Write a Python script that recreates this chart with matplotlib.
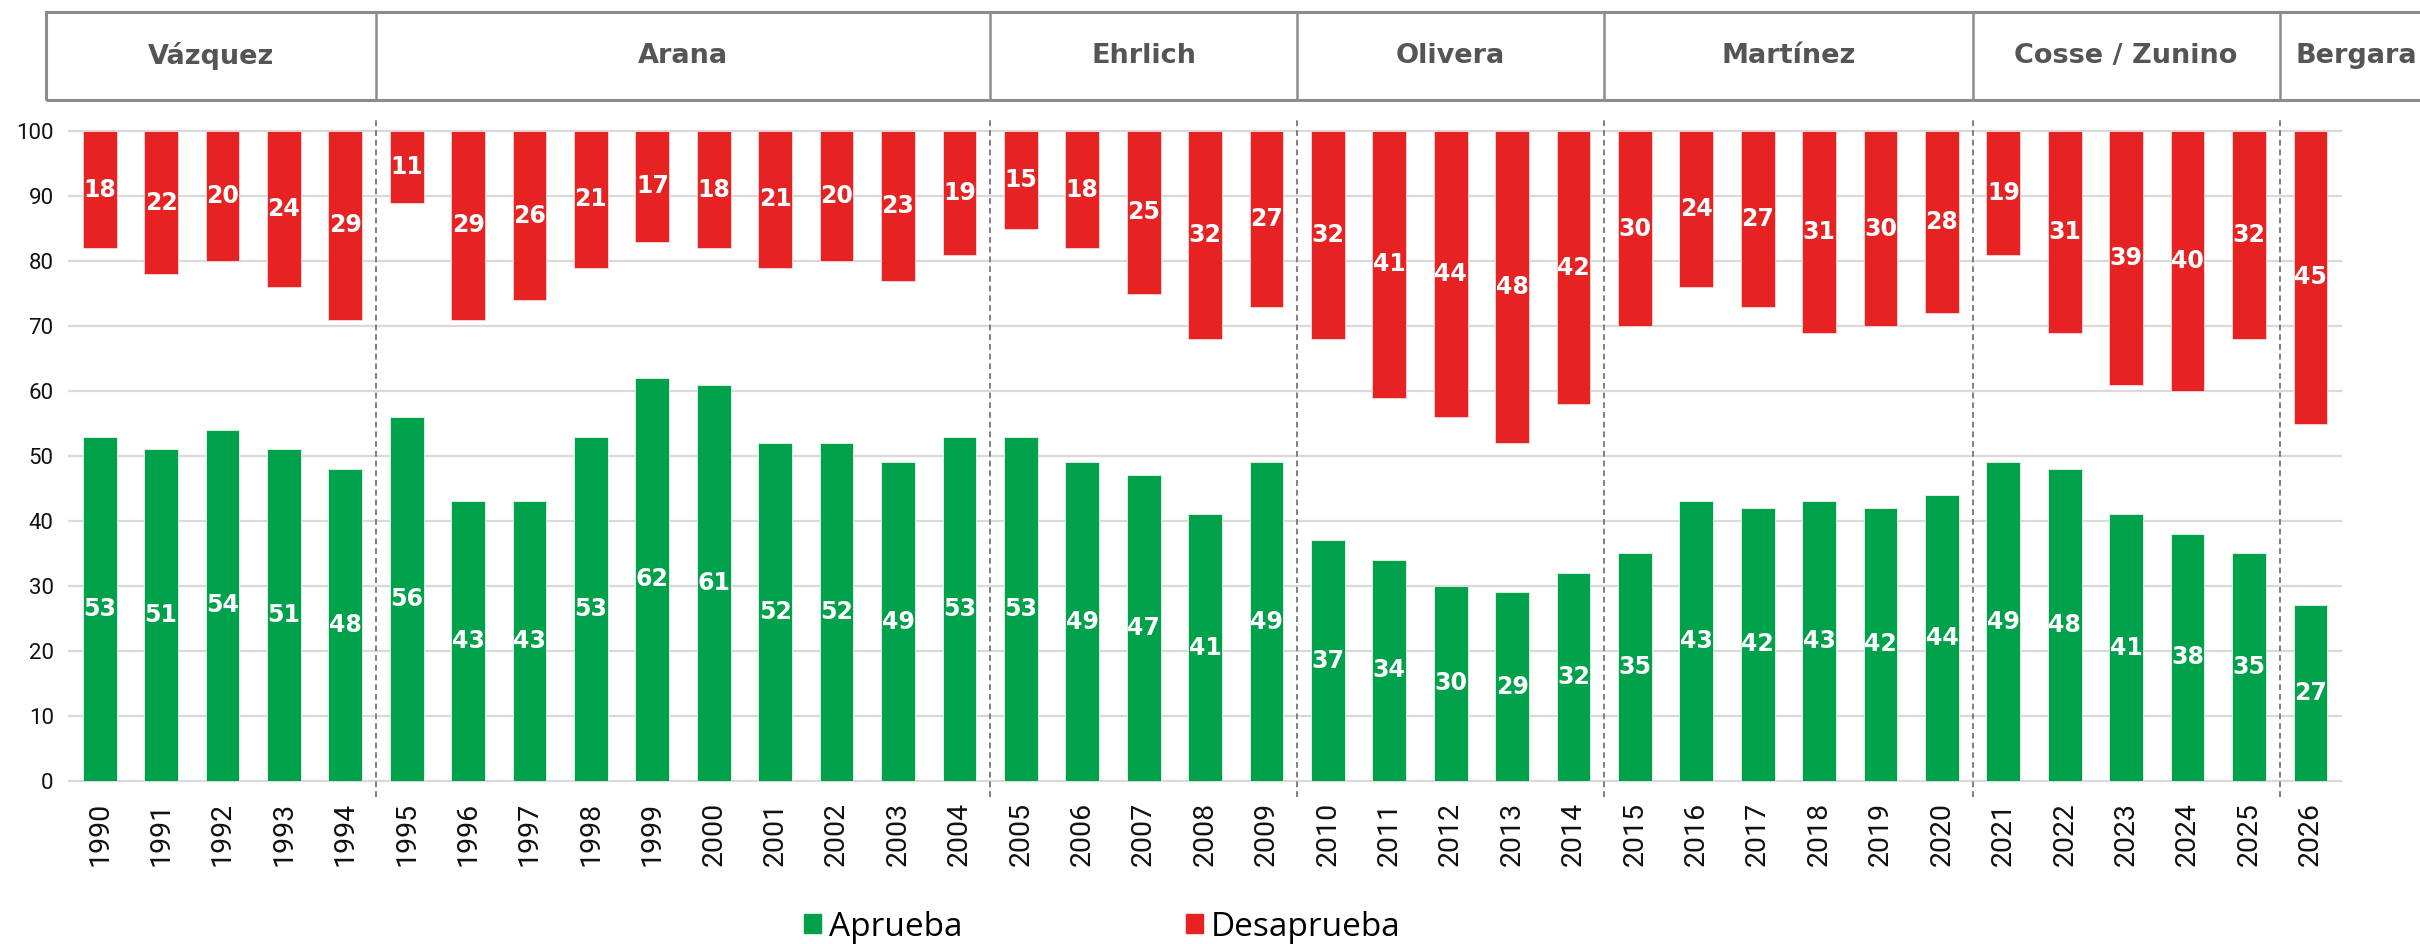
import matplotlib.pyplot as plt
from matplotlib.patches import Rectangle, Patch
import numpy as np

# datos: aprobacion / desaprobacion por año
years = [1990, 1991, 1992, 1993, 1994, 1995, 1996, 1997, 1998, 1999,
         2000, 2001, 2002, 2003, 2004, 2005, 2006, 2007, 2008, 2009,
         2010, 2011, 2012, 2013, 2014, 2015, 2016, 2017, 2018, 2019,
         2020, 2021, 2022, 2023, 2024, 2025, 2026]
aprueba = [53, 51, 54, 51, 48,
           56, 43, 43, 53, 62, 61, 52, 52, 49, 53,
           53, 49, 47, 41, 49,
           37, 34, 30, 29, 32,
           35, 43, 42, 43, 42, 44,
           49, 48, 41, 38, 35,
           27]
desaprueba = [18, 22, 20, 24, 29,
              11, 29, 26, 21, 17, 18, 21, 20, 23, 19,
              15, 18, 25, 32, 27,
              32, 41, 44, 48, 42,
              30, 24, 27, 31, 30, 28,
              19, 31, 39, 40, 32,
              45]
intendentes = ['Vázquez', 'Arana', 'Ehrlich', 'Olivera', 'Martínez', 'Cosse / Zunino', 'Bergara']
anios_por_periodo = [5, 10, 5, 5, 6, 5, 1]

VERDE = '#00A14B'
ROJO = '#E62222'
GRIS = '#8c8c8c'

fig = plt.figure(figsize=(24.2, 9.44), dpi=100)
ax = fig.add_axes([0.0285, 0.1727, 0.9389, 0.6885])

x = np.arange(len(years))
ancho = 0.55
ax.bar(x, aprueba, width=ancho, color=VERDE, edgecolor='#e8f5ec', linewidth=0.6, zorder=3)
ax.bar(x, desaprueba, width=ancho, bottom=[100 - d for d in desaprueba],
       color=ROJO, edgecolor='#f7dada', linewidth=0.6, zorder=3)

for i in range(len(years)):
    ax.text(x[i], aprueba[i] / 2, str(aprueba[i]), ha='center', va='center',
            color='white', fontsize=17, fontweight='bold', family='DejaVu Sans', zorder=4)
    ax.text(x[i], 100 - desaprueba[i] / 2, str(desaprueba[i]), ha='center', va='center',
            color='white', fontsize=17, fontweight='bold', family='DejaVu Sans', zorder=4)

ax.set_xlim(-0.5, len(years) - 0.5)
ax.set_ylim(0, 100)
ax.set_yticks(range(0, 101, 10))
ax.set_xticks(x, [str(y) for y in years], rotation=90)
ax.tick_params(axis='both', length=0)
ax.tick_params(axis='x', pad=15, labelsize=20.5)
ax.tick_params(axis='y', pad=11, labelsize=16)
for lab in ax.get_xticklabels() + ax.get_yticklabels():
    lab.set_fontfamily('Roboto')
    lab.set_color('#111111')

ax.yaxis.grid(True, color='#d9d9d9', linewidth=1.6)
for gl in ax.get_ygridlines():
    gl.set_clip_on(False)
ax.set_axisbelow(True)
for s in ax.spines.values():
    s.set_visible(False)

# separadores entre periodos
trans = ax.get_xaxis_transform()
limites = list(np.cumsum(anios_por_periodo)[:-1] - 0.5)
for b in limites:
    ax.plot([b, b], [-0.025, 1.022], transform=trans, color='#808080',
            linestyle=(0, (3, 2)), linewidth=1.4, clip_on=False, zorder=2)

# encabezado con los intendentes
y0, y1 = 1.0477, 1.183
bordes = [-0.875] + limites + [38.0]
ax.add_patch(Rectangle((bordes[0], y0), bordes[-1] - bordes[0], y1 - y0, transform=trans,
                       fill=False, edgecolor=GRIS, linewidth=2.2, clip_on=False))
for b in limites:
    ax.plot([b, b], [y0, y1], transform=trans, color=GRIS, linewidth=1.8, clip_on=False)
for k, nombre in enumerate(intendentes):
    ax.text((bordes[k] + bordes[k + 1]) / 2, (y0 + y1) / 2, nombre, transform=trans,
            ha='center', va='center', fontsize=19.5, fontweight='bold',
            family='DejaVu Sans', color='#555555', clip_on=False)

handles = [Patch(color=VERDE, label='Aprueba'), Patch(color=ROJO, label='Desaprueba')]
fig.legend(handles=handles, loc='center', bbox_to_anchor=(0.4555, 0.018), ncol=2,
           frameon=False, prop={'family': 'Open Sans', 'size': 24},
           handlelength=0.5, handleheight=0.5, handletextpad=0.25, columnspacing=6.7,
           borderpad=0)

fig.savefig('out.png', dpi=100)
